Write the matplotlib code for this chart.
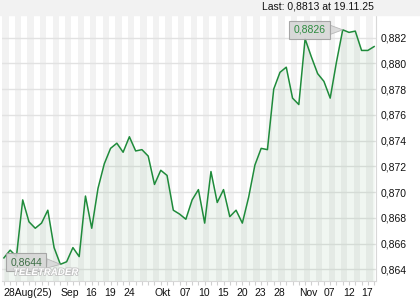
import matplotlib.pyplot as plt
import matplotlib.patheffects as pe
from matplotlib.patches import Rectangle

plt.rcParams['font.family'] = ['Liberation Sans', 'DejaVu Sans']

# daily closes, 28 Aug 2025 .. 19 Nov 2025 (trading days)
values = [0.8649, 0.8655, 0.8650, 0.8694, 0.8677, 0.8672, 0.8676, 0.8686, 0.8657, 0.8644,
          0.8646, 0.8657, 0.8650, 0.8697, 0.8672, 0.8703, 0.8722, 0.8734, 0.8738, 0.8731,
          0.8743, 0.8732, 0.8733, 0.8728, 0.8706, 0.8717, 0.8713, 0.8686, 0.8683, 0.8679,
          0.8694, 0.8702, 0.8676, 0.8716, 0.8692, 0.8702, 0.8681, 0.8686, 0.8676, 0.8696,
          0.8721, 0.8734, 0.8733, 0.8780, 0.8793, 0.8797, 0.8773, 0.8768, 0.8819, 0.8805,
          0.8792, 0.8786, 0.8773, 0.8801, 0.8826, 0.8824, 0.8825, 0.8810, 0.8810, 0.8813]

tick_pos = [0, 9, 13, 16, 19, 24, 28, 31, 34, 37, 40, 43, 47, 51, 54, 57]
tick_labels = ['28Aug(25)', 'Sep', '16', '19', '24', 'Okt', '07', '10', '15', '20',
               '23', '28', 'Nov', '07', '12', '17']
y_ticks = [0.864, 0.866, 0.868, 0.870, 0.872, 0.874, 0.876, 0.878, 0.880, 0.882]

x = list(range(len(values)))
line_color = '#1f8b3b'
ymin, ymax = 0.86313, 0.88375

fig = plt.figure(figsize=(4.2, 3.0), dpi=100)
fig.patch.set_facecolor('white')
fig.patches.append(Rectangle((0, 0.95), 1, 0.05, transform=fig.transFigure,
                             color='#f2f2f2', zorder=0))
fig.text(374 / 420, 0.977, 'Last: 0,8813 at 19.11.25', ha='right', va='center',
         fontsize=7.5, color='#111111')

ax = fig.add_axes([2 / 420, 19.3 / 300, 374 / 420, 265.7 / 300])
ax.set_xlim(-0.3, len(values) - 0.7)
ax.set_ylim(ymin, ymax)

# alternating day stripes
for k in range(0, len(values) + 1, 2):
    ax.axvspan(k - 0.25, k + 0.75, color='#f2f2f2', lw=0, zorder=0)

for yt in y_ticks:
    ax.axhline(yt, color='#e2e2e2', lw=1, zorder=1)

ax.fill_between(x, values, ymin, color='#2e8b3e', alpha=0.07, lw=0, zorder=2)
ax.plot(x, values, color=line_color, lw=1.1, zorder=3)

# max / min labels
imax = values.index(max(values))
imin = values.index(min(values))
box = dict(boxstyle='square,pad=0.4', fc='#d6d6d6', ec='#a0a0a0', lw=0.8, alpha=0.9)
arrow = dict(arrowstyle='wedge,tail_width=0.9', fc='#d6d6d6', ec='#b0b0b0',
             lw=0.6, alpha=0.85, shrinkA=0, shrinkB=0)
ax.annotate(f'{values[imax]:.4f}'.replace('.', ','), (imax, values[imax]),
            xytext=(-24, 0), textcoords='offset points', ha='center', va='center',
            fontsize=7.5, color='#2b8a3e', bbox=box, zorder=5, arrowprops=arrow)
ax.annotate(f'{values[imin]:.4f}'.replace('.', ','), (imin, values[imin]),
            xytext=(-24.5, 1.5), textcoords='offset points', ha='center', va='center',
            fontsize=7.5, color='#3d6e45', bbox=box, zorder=5, arrowprops=arrow)

fig.text(13 / 420, 28 / 300, 'TELETRADER', ha='left', va='center', fontsize=7,
         fontweight='bold', fontstyle='italic', color='white', zorder=6,
         path_effects=[pe.withStroke(linewidth=1.2, foreground='#c4c4c4')])

ax.yaxis.tick_right()
ax.set_yticks(y_ticks)
ax.set_yticklabels([f'{v:.3f}'.replace('.', ',') for v in y_ticks])
ax.tick_params(axis='y', length=0, pad=3.5, labelsize=7.5, labelcolor='#111111')

ax.set_xticks(tick_pos)
ax.set_xticklabels(tick_labels, ha='left')
ax.set_xticks(x, minor=True)
ax.tick_params(axis='x', which='both', length=3, width=0.8, color='#d0d0d0',
               pad=2, labelsize=7.5, labelcolor='#111111')

for side in ['top', 'left']:
    ax.spines[side].set_visible(False)
for side in ['bottom', 'right']:
    ax.spines[side].set_color('#d8d8d8')

fig.savefig('out.png', dpi=100)
